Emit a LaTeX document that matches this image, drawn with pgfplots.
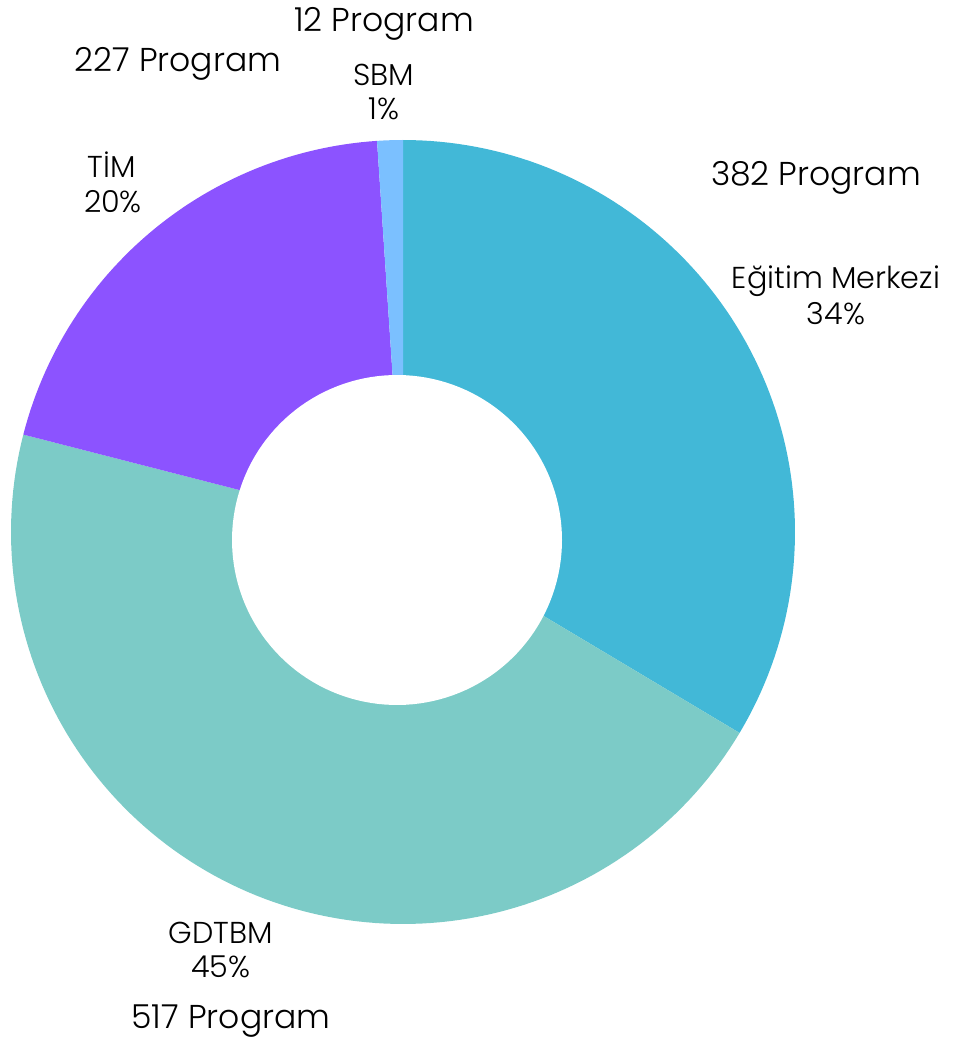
\documentclass[border=0pt]{standalone}
\usepackage{pgfplots}
\usepackage{pgfplotstable}
\pgfplotsset{compat=1.18}
\usepackage{fontspec}
\IfFontExistsTF{Poppins Light}{\setmainfont{Poppins Light}}{\setmainfont{Poppins}}
\definecolor{cE}{HTML}{42B8D7}
\definecolor{cG}{HTML}{7CCBC7}
\definecolor{cT}{HTML}{8C53FF}
\definecolor{cS}{HTML}{7BC0FF}
\definecolor{txt}{HTML}{383838}

\pgfplotstableread{
name value
Egitim 382
GDTBM 517
TIM 227
SBM 12
}\piedata

\pgfplotstablegetelem{0}{value}\of\piedata \let\vA\pgfplotsretval
\pgfplotstablegetelem{1}{value}\of\piedata \let\vB\pgfplotsretval
\pgfplotstablegetelem{2}{value}\of\piedata \let\vC\pgfplotsretval
\pgfplotstablegetelem{3}{value}\of\piedata \let\vD\pgfplotsretval
\pgfmathsetmacro{\tot}{\vA+\vB+\vC+\vD}
\pgfmathsetmacro{\fA}{\vA/\tot}
\pgfmathsetmacro{\fB}{(\vA+\vB)/\tot}
\pgfmathsetmacro{\fC}{(\vA+\vB+\vC)/\tot}
% angles (math convention), clockwise from 12 o'clock
\pgfmathsetmacro{\aA}{90}
\pgfmathsetmacro{\aB}{90-360*\fA}
\pgfmathsetmacro{\aC}{90-360*\fB}
\pgfmathsetmacro{\aD}{90-360*\fC}
\pgfmathsetmacro{\aE}{90-360}

\newcommand{\cx}{403}
\newcommand{\cy}{518}
\newcommand{\R}{392}

\begin{document}
\begin{tikzpicture}
\begin{axis}[
  scale only axis, width=9.53cm, height=10.5cm,
  xmin=0, xmax=953, ymin=0, ymax=1050,
  hide axis, clip=false,
  every node/.style={text=txt, inner sep=0pt, outer sep=0pt},
]
\addplot[fill=cE, draw=none, domain=\aB:\aA, samples=90, variable=\t]
  ({\cx+\R*cos(t)},{\cy+\R*sin(t)}) -- (axis cs:\cx,\cy) -- cycle;
\addplot[fill=cG, draw=none, domain=\aC:\aB, samples=120, variable=\t]
  ({\cx+\R*cos(t)},{\cy+\R*sin(t)}) -- (axis cs:\cx,\cy) -- cycle;
\addplot[fill=cT, draw=none, domain=\aD:\aC, samples=60, variable=\t]
  ({\cx+\R*cos(t)},{\cy+\R*sin(t)}) -- (axis cs:\cx,\cy) -- cycle;
\addplot[fill=cS, draw=none, domain=\aE:\aD, samples=10, variable=\t]
  ({\cx+\R*cos(t)},{\cy+\R*sin(t)}) -- (axis cs:\cx,\cy) -- cycle;
% hole
\addplot[fill=white, draw=none, domain=0:360, samples=150, variable=\t]
  ({397+165*cos(t)},{510+165*sin(t)}) -- cycle;

% labels
\def\big{\fontsize{9.4pt}{11pt}\selectfont}
\def\sml{\fontsize{8.6pt}{9.6pt}\selectfont}
\node[anchor=base] at (axis cs:384,1018) {\big 12 Program};
\node[anchor=base] at (axis cs:384,964) {\sml SBM};
\node[anchor=base] at (axis cs:384,930) {\sml 1\%};
\node[anchor=base] at (axis cs:178,978) {\big 227 Program};
\node[anchor=base] at (axis cs:112,872) {\sml TİM};
\node[anchor=base] at (axis cs:113,837) {\sml 20\%};
\node[anchor=base] at (axis cs:816,864) {\big 382 Program};
\node[anchor=base] at (axis cs:836,761) {\sml Eğitim Merkezi};
\node[anchor=base] at (axis cs:836,725) {\sml 34\%};
\node[anchor=base] at (axis cs:221,106) {\sml GDTBM};
\node[anchor=base] at (axis cs:221,72) {\sml 45\%};
\node[anchor=base] at (axis cs:231,22) {\big 517 Program};
\end{axis}
\pgfresetboundingbox
\path[use as bounding box] (current axis.south west) rectangle (current axis.north east);
\end{tikzpicture}
\end{document}
